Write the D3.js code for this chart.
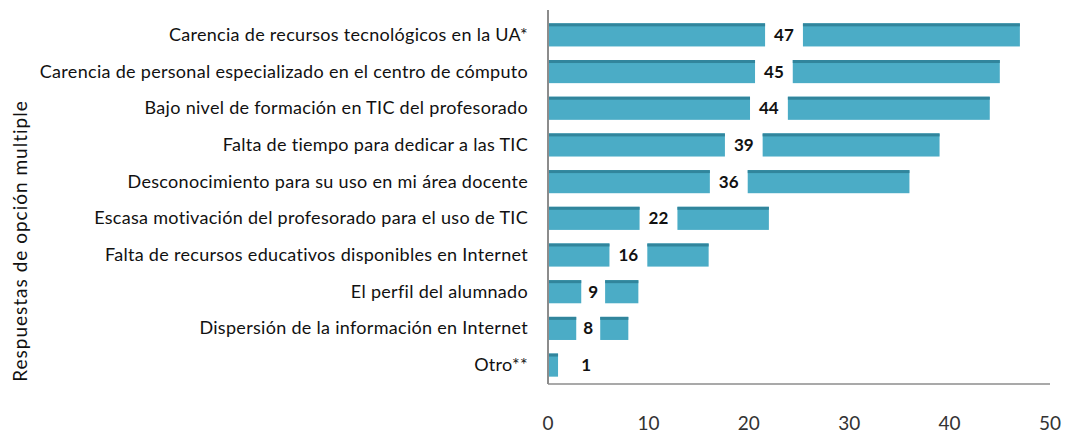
<!DOCTYPE html>
<html>
<head>
<meta charset="utf-8">
<script src="https://cdn.jsdelivr.net/npm/d3@7"></script>
<style>
  html, body { margin: 0; padding: 0; background: #fff; overflow: hidden; }
  svg { display: block; font-family: Lato, "Open Sans", sans-serif; }
</style>
</head>
<body>
<script>
const categories = [
    "Carencia de recursos tecnológicos en la UA*",
    "Carencia de personal especializado en el centro de cómputo",
    "Bajo nivel de formación en TIC del profesorado",
    "Falta de tiempo para dedicar a las TIC",
    "Desconocimiento para su uso en mi área docente",
    "Escasa motivación del profesorado para el uso de TIC",
    "Falta de recursos educativos disponibles en Internet",
    "El perfil del alumnado",
    "Dispersión de la información en Internet",
    "Otro**"
];
const values = [47, 45, 44, 39, 36, 22, 16, 9, 8, 1];
const xTicks = [0, 10, 20, 30, 40, 50];
const axisTitle = "Respuestas de opción multiple";

const width = 1065;
const height = 436;
const margin = { top: 16, right: 15, bottom: 52, left: 548 };

const svg = d3.select("body")
    .append("svg")
    .attr("width", width)
    .attr("height", height)
    .attr("viewBox", `0 0 ${width} ${height}`);

const innerHeight = height - margin.top - margin.bottom;

const g = svg.append("g")
    .attr("transform", `translate(${margin.left}, ${margin.top})`);

const xScale = d3.scaleLinear()
    .domain([0, 50])
    .range([0, 502]);

const yScale = d3.scaleBand()
    .domain(categories)
    .range([0, innerHeight])
    .paddingInner(0.37)
    .paddingOuter(0.2);

const barLayer = g.append("g");
const labelLayer = g.append("g");

// Etiquetas de datos (medidas primeiro, para abrir o espaço na barra)
const labels = labelLayer.selectAll("text")
    .data(values)
    .enter()
    .append("text")
    .attr("x", d => Math.max(xScale(d / 2), xScale(3.8)))
    .attr("y", (d, i) => yScale(categories[i]) + yScale.bandwidth() / 2 + 6)
    .attr("text-anchor", "middle")
    .attr("font-size", 17)
    .attr("font-weight", "bold")
    .attr("fill", "#111")
    .text(d => d);

// Barras, cortadas em volta da etiqueta
const segments = [];
labels.each(function(d, i) {
    const b = this.getBBox();
    const pad = b.width > 12 ? 9 : 7;
    const end = xScale(d);
    const gapL = b.x - pad;
    const gapR = b.x + b.width + pad;
    const y = yScale(categories[i]);
    if (Math.min(gapL, end) > 0) segments.push({ x0: 0, x1: Math.min(gapL, end), y });
    if (end > gapR) segments.push({ x0: gapR, x1: end, y });
});

const segs = barLayer.selectAll("g")
    .data(segments)
    .enter()
    .append("g");

segs.append("rect")
    .attr("x", d => d.x0)
    .attr("y", d => d.y)
    .attr("width", d => d.x1 - d.x0)
    .attr("height", yScale.bandwidth())
    .attr("fill", "#4bacc6");

segs.append("rect")
    .attr("x", d => d.x0)
    .attr("y", d => d.y)
    .attr("width", d => d.x1 - d.x0)
    .attr("height", 3)
    .attr("fill", "#31859c");

// Eixos
g.append("line")
    .attr("x1", 0).attr("x2", 0)
    .attr("y1", -6).attr("y2", innerHeight)
    .attr("stroke", "#8c8c8c")
    .attr("stroke-width", 2);

g.append("line")
    .attr("x1", 0).attr("x2", xScale(50))
    .attr("y1", innerHeight).attr("y2", innerHeight)
    .attr("stroke", "#8c8c8c")
    .attr("stroke-width", 1.5);

g.append("g")
    .selectAll("text")
    .data(xTicks)
    .enter()
    .append("text")
    .attr("x", d => xScale(d))
    .attr("y", innerHeight + 46)
    .attr("text-anchor", "middle")
    .attr("font-size", 19)
    .attr("fill", "#333")
    .text(d => d);

// Categorias
g.append("g")
    .selectAll("text")
    .data(categories)
    .enter()
    .append("text")
    .attr("x", -20)
    .attr("y", d => yScale(d) + yScale.bandwidth() / 2 + 6)
    .attr("text-anchor", "end")
    .attr("font-size", 18)
    .attr("letter-spacing", 0.3)
    .attr("fill", "#111")
    .text(d => d);

svg.append("text")
    .attr("transform", `translate(27, 241) rotate(-90)`)
    .attr("text-anchor", "middle")
    .attr("font-size", 19)
    .attr("letter-spacing", 1)
    .attr("fill", "#111")
    .text(axisTitle);
</script>
</body>
</html>
